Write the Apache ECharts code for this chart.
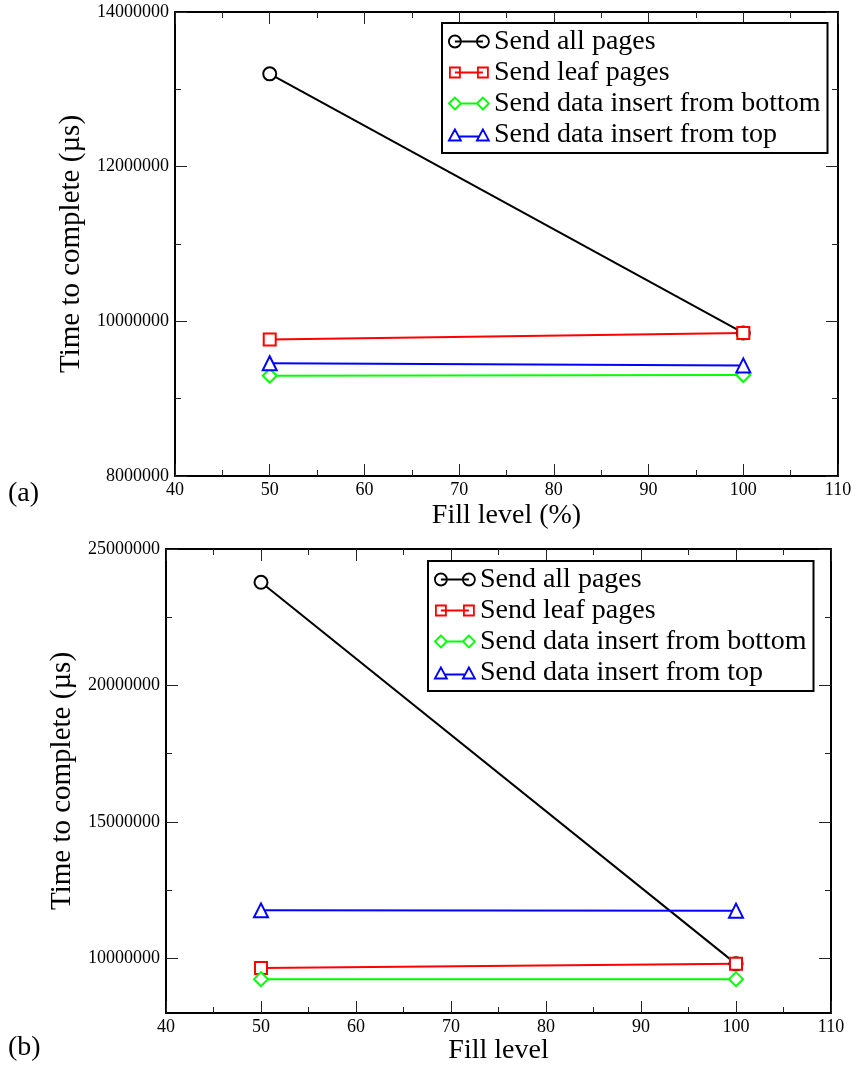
<!DOCTYPE html>
<html><head><meta charset="utf-8">
<script src="https://cdn.jsdelivr.net/npm/echarts@6/dist/echarts.min.js"></script>
<style>html,body{margin:0;padding:0;background:#fff}#c{width:858px;height:1072px}</style>
</head><body><div id="c"></div><script>
const fillLevels = [50, 100];
const seriesNames = ['Send all pages', 'Send leaf pages', 'Send data insert from bottom', 'Send data insert from top'];
const seriesColors = ['#000000', '#ff0000', '#00ff00', '#0000ff'];
const seriesSymbols = ['emptyCircle', 'emptyRect', 'emptyDiamond', 'emptyTriangle'];
// panel (a)
const aAllPages = [13200000, 9850000];
const aLeafPages = [9765000, 9850000];
const aInsertBottom = [9297000, 9305000];
const aInsertTop = [9458000, 9430000];
// panel (b)
const bAllPages = [23780000, 9800000];
const bLeafPages = [9650000, 9800000];
const bInsertBottom = [9240000, 9240000];
const bInsertTop = [11760000, 11750000];
// tick values for panel (b) y axis
const bYMajor = [10000000, 15000000, 20000000, 25000000];
const bYMinor = [12500000, 17500000, 22500000];

const FONT = 'Liberation Serif';
const legendIcons = [
  'path://M0,6 A6,6 0 1 1 12,6 A6,6 0 1 1 0,6 Z M6,6 L34,6 M28,6 A6,6 0 1 1 40,6 A6,6 0 1 1 28,6 Z',
  'path://M1,1 L11,1 L11,11 L1,11 Z M6,6 L34,6 M29,1 L39,1 L39,11 L29,11 Z M0,0 M40,12',
  'path://M0,6 L6,0 L12,6 L6,12 Z M12,6 L28,6 M28,6 L34,0 L40,6 L34,12 Z',
  'path://M0,12 L6,1 L12,12 Z M9,8 L31,8 M28,12 L34,1 L40,12 Z M0,0 M40,12'
];
const symbolSizes = [13, 12, 14, 14];

function fmt(v) { return String(v); }

function xAxisPair(gi, name, nameGap) {
  const base = {
    gridIndex: gi, type: 'value', min: 40, max: 110, interval: 10,
    axisLine: { show: true, lineStyle: { color: '#000', width: 2 } },
    axisTick: { show: true, inside: true, length: 12, lineStyle: { color: '#222', width: 1 } },
    minorTick: { show: true, splitNumber: 2, length: 6, lineStyle: { color: '#222', width: 1 } },
    splitLine: { show: false }, minorSplitLine: { show: false }
  };
  return [
    Object.assign({}, base, {
      position: 'bottom',
      axisLabel: { show: true, formatter: fmt, fontFamily: FONT, fontSize: 18, color: '#000', margin: 5 },
      name: name, nameLocation: 'middle', nameGap: nameGap,
      nameTextStyle: { fontFamily: FONT, fontSize: 28, color: '#000' }
    }),
    Object.assign({}, base, { position: 'top', axisLabel: { show: false } })
  ];
}

const xAxes = [].concat(xAxisPair(0, 'Fill level (%)', 26), xAxisPair(1, 'Fill level', 23));

const yAxes = [
  {
    gridIndex: 0, type: 'value', position: 'left', min: 8000000, max: 14000000, interval: 2000000,
    axisLine: { show: true, lineStyle: { color: '#000', width: 2 } },
    axisTick: { show: true, inside: true, length: 12, lineStyle: { color: '#222', width: 1 } },
    minorTick: { show: true, splitNumber: 2, length: 6, lineStyle: { color: '#222', width: 1 } },
    splitLine: { show: false },
    axisLabel: { formatter: fmt, fontFamily: FONT, fontSize: 18, color: '#000', margin: 6 },
    name: 'Time to complete (\u00b5s)', nameLocation: 'middle', nameGap: 83,
    nameTextStyle: { fontFamily: FONT, fontSize: 29, color: '#000' }
  },
  {
    gridIndex: 0, type: 'value', position: 'right', min: 8000000, max: 14000000, interval: 2000000,
    axisLine: { show: true, lineStyle: { color: '#000', width: 2 } },
    axisTick: { show: true, inside: true, length: 12, lineStyle: { color: '#222', width: 1 } },
    minorTick: { show: true, splitNumber: 2, length: 6, lineStyle: { color: '#222', width: 1 } },
    splitLine: { show: false }, axisLabel: { show: false }
  },
  {
    gridIndex: 1, type: 'value', position: 'left', min: 8000000, max: 25000000,
    axisLine: { show: true, lineStyle: { color: '#000', width: 2 } },
    axisTick: { show: true, inside: true, length: 12, customValues: bYMajor, lineStyle: { color: '#222', width: 1 } },
    splitLine: { show: false },
    axisLabel: { customValues: bYMajor, formatter: fmt, fontFamily: FONT, fontSize: 18, color: '#000', margin: 6 },
    name: 'Time to complete (\u00b5s)', nameLocation: 'middle', nameGap: 85,
    nameTextStyle: { fontFamily: FONT, fontSize: 29, color: '#000' }
  },
  {
    gridIndex: 1, type: 'value', position: 'right', min: 8000000, max: 25000000,
    axisLine: { show: true, lineStyle: { color: '#000', width: 2 } },
    axisTick: { show: true, inside: true, length: 12, customValues: bYMajor, lineStyle: { color: '#222', width: 1 } },
    splitLine: { show: false }, axisLabel: { show: false }
  },
  {
    gridIndex: 1, type: 'value', position: 'left', min: 8000000, max: 25000000,
    axisLine: { show: false },
    axisTick: { show: true, inside: true, length: 6, customValues: bYMinor, lineStyle: { color: '#222', width: 1 } },
    splitLine: { show: false }, axisLabel: { show: false }
  },
  {
    gridIndex: 1, type: 'value', position: 'right', min: 8000000, max: 25000000,
    axisLine: { show: false },
    axisTick: { show: true, inside: true, length: 6, customValues: bYMinor, lineStyle: { color: '#222', width: 1 } },
    splitLine: { show: false }, axisLabel: { show: false }
  }
];

function pts(arr) { return fillLevels.map((x, i) => [x, arr[i]]); }

const panelA = [aAllPages, aLeafPages, aInsertBottom, aInsertTop];
const panelB = [bAllPages, bLeafPages, bInsertBottom, bInsertTop];

const series = [];
panelA.forEach((arr, k) => series.push({
  type: 'line', name: seriesNames[k], xAxisIndex: 0, yAxisIndex: 0, data: pts(arr),
  symbol: seriesSymbols[k], symbolSize: symbolSizes[k],
  itemStyle: { color: seriesColors[k], borderWidth: 2 },
  lineStyle: { color: seriesColors[k], width: 2 }
}));
panelB.forEach((arr, k) => series.push({
  type: 'line', name: seriesNames[k], xAxisIndex: 2, yAxisIndex: 2, data: pts(arr),
  symbol: seriesSymbols[k], symbolSize: symbolSizes[k],
  itemStyle: { color: seriesColors[k], borderWidth: 2 },
  lineStyle: { color: seriesColors[k], width: 2 }
}));

function legendAt(left, top) {
  return {
    orient: 'vertical', left: left, top: top, selectedMode: false,
    itemWidth: 40, itemHeight: 12, itemGap: 0,
    padding: [3, 7, 3, 6],
    backgroundColor: '#fff', borderColor: '#000', borderWidth: 2,
    textStyle: { fontFamily: FONT, fontSize: 28, color: '#000', lineHeight: 31 },
    data: seriesNames.map((n, k) => ({
      name: n, icon: legendIcons[k],
      itemStyle: { color: 'rgba(0,0,0,0)', borderColor: seriesColors[k], borderWidth: 1.8 }
    }))
  };
}

const chart = echarts.init(document.getElementById('c'), null, { renderer: 'canvas' });
chart.setOption({
  animation: false,
  backgroundColor: '#fff',
  grid: [
    { left: 175, top: 12, width: 663, height: 464 },
    { left: 166, top: 549, width: 665, height: 464 }
  ],
  xAxis: xAxes,
  yAxis: yAxes,
  legend: [legendAt(442, 23), legendAt(428, 561)],
  series: series,
  graphic: [
    { type: 'text', left: 8, top: 480, style: { text: '(a)', fontFamily: FONT, fontSize: 28, fill: '#000' } },
    { type: 'text', left: 8, top: 1034, style: { text: '(b)', fontFamily: FONT, fontSize: 28, fill: '#000' } }
  ]
});
</script></body></html>
